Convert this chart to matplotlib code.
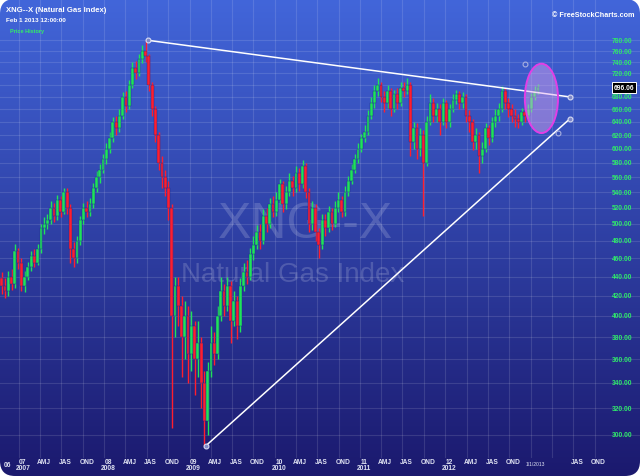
import matplotlib
matplotlib.use("Agg")
import matplotlib.pyplot as plt
import matplotlib.dates as mdates
import matplotlib.transforms as mtrans
from matplotlib.patches import FancyBboxPatch, Ellipse
import numpy as np
import pandas as pd

# XNG--X, bi-weekly bars
bar_dates = pd.date_range("2006-10-19", periods=165, freq="14D")
first_open = 438
closes = [430, 425, 440, 432, 468, 455, 430, 440, 450, 462,
          455, 470, 495, 500, 505, 520, 510, 530, 515, 540,
          520, 470, 460, 480, 505, 520, 515, 525, 545, 560,
          570, 585, 600, 615, 640, 630, 650, 680, 665, 700,
          730, 720, 745, 760, 750, 700, 660, 620, 580, 560,
          545, 520, 400, 430, 410, 380, 400, 365, 390, 360,
          375, 340, 310, 350, 375, 365, 400, 425, 410, 430,
          395, 415, 390, 430, 445, 440, 465, 475, 490, 480,
          510, 500, 525, 515, 530, 550, 525, 540, 555, 545,
          565, 550, 575, 540, 500, 520, 490, 475, 505, 495,
          515, 500, 520, 530, 515, 540, 555, 570, 585, 600,
          615, 625, 650, 670, 690, 700, 680, 670, 690, 660,
          685, 670, 695, 690, 700, 610, 630, 600, 620, 580,
          640, 670, 650, 660, 640, 670, 640, 660, 675, 685,
          670, 680, 650, 640, 610, 620, 590, 600, 630, 615,
          640, 650, 660, 690, 670, 660, 650, 645, 640, 655,
          650, 660, 680, 690, 696.06]
highs = [445, 438, 446, 448, 476, 472, 460, 446, 456, 468,
         470, 476, 500, 508, 512, 528, 526, 536, 535, 546,
         545, 524, 478, 486, 510, 526, 528, 532, 552, 568,
         578, 592, 608, 624, 648, 650, 660, 688, 690, 708,
         740, 742, 755, 772, 780, 755, 705, 665, 625, 590,
         570, 555, 525, 440, 440, 420, 415, 410, 405, 395,
         395, 380, 350, 358, 390, 385, 410, 440, 432, 440,
         435, 425, 420, 438, 455, 458, 472, 485, 498, 500,
         518, 520, 532, 535, 540, 558, 555, 548, 565, 562,
         575, 572, 583, 580, 545, 528, 525, 495, 512, 512,
         522, 520, 528, 540, 535, 548, 562, 578, 592, 608,
         622, 635, 658, 680, 700, 712, 705, 690, 700, 695,
         692, 695, 705, 705, 712, 705, 640, 638, 630, 628,
         650, 685, 678, 670, 668, 678, 675, 668, 685, 692,
         690, 688, 685, 658, 645, 630, 625, 610, 638, 635,
         648, 660, 670, 698, 695, 678, 668, 660, 652, 662,
         662, 668, 686, 698, 702]
lows = [422, 418, 420, 426, 428, 448, 425, 424, 436, 446,
        450, 452, 466, 488, 494, 500, 502, 505, 508, 512,
        512, 455, 450, 455, 475, 500, 508, 510, 520, 540,
        552, 565, 578, 594, 610, 620, 625, 645, 655, 660,
        695, 710, 715, 738, 740, 690, 650, 610, 570, 545,
        535, 505, 305, 380, 390, 345, 360, 340, 350, 330,
        345, 320, 292, 300, 345, 355, 360, 395, 400, 405,
        375, 390, 378, 385, 425, 432, 436, 458, 470, 470,
        476, 490, 495, 508, 510, 525, 515, 518, 535, 535,
        540, 542, 545, 532, 490, 492, 480, 460, 470, 485,
        490, 492, 496, 514, 508, 510, 535, 550, 565, 580,
        595, 610, 620, 645, 662, 682, 672, 655, 662, 650,
        655, 660, 665, 680, 685, 590, 600, 585, 590, 510,
        575, 635, 640, 640, 620, 635, 630, 632, 655, 668,
        660, 662, 640, 625, 598, 600, 565, 580, 595, 605,
        610, 632, 642, 655, 660, 648, 640, 632, 630, 635,
        640, 645, 655, 675, 685]
last_price = 696.06

price_ticks = list(range(300, 781, 20))
quarters = pd.date_range("2006-10-01", "2013-10-01", freq="QS")
quarter_labels = ["06",
                  "07|2007", "AMJ", "JAS", "OND",
                  "08|2008", "AMJ", "JAS", "OND",
                  "09|2009", "AMJ", "JAS", "OND",
                  "10|2010", "AMJ", "JAS", "OND",
                  "11|2011", "AMJ", "JAS", "OND",
                  "12|2012", "AMJ", "JAS", "OND",
                  "1/1/2013", "", "JAS", "OND"]

# drawn trend lines and the ellipse box corners
upper_dates = ["2008-07-06", "2013-06-17"]
upper_prices = [780, 680]
lower_dates = ["2009-03-11", "2013-06-17"]
lower_prices = [292, 645]
ellipse_dates = ["2012-12-06", "2013-04-27"]
ellipse_prices = [737, 623]

W, H = 640, 477
ref = mdates.date2num(pd.Timestamp("2007-01-01"))


def px2date(px):
    return ref + (px - 19) / 85.3 * 365.25


def py2price(py):
    return 780 * np.exp(-(py - 41.3) * 0.002423)


fig = plt.figure(figsize=(6.4, 4.77), dpi=100)
fig.patch.set_facecolor("white")
ax = fig.add_axes([0, 0, 1, 1])
ax.set_yscale("log")
ax.set_xlim(px2date(0), px2date(W))
ax.set_ylim(py2price(H), py2price(0))
ax.axis("off")

# background gradient with rounded corners
top = np.array([66, 102, 218]) / 255
bot = np.array([27, 25, 110]) / 255
t = np.linspace(0, 1, 256)[:, None]
grad = (top[None, :] * (1 - t) + bot[None, :] * t)[:, None, :]
im = ax.imshow(grad, extent=[0, 1, 0, 1], transform=ax.transAxes,
               aspect="auto", zorder=0, interpolation="bilinear")
clip = FancyBboxPatch((0, 0), W, H, boxstyle="round,pad=0,rounding_size=15",
                      transform=mtrans.IdentityTransform(), fc="none", ec="none")
im.set_clip_path(clip)

grid_c = (1, 1, 1, 0.12)
for v in price_ticks:
    ax.axhline(v, color=grid_c, lw=0.8, zorder=1)
for q in quarters:
    ax.axvline(q, ymin=1 - 458 / H, ymax=1, color=grid_c, lw=0.8, zorder=1)

# watermark
ax.text(0.477, 1 - 225 / H, "XNG--X", transform=ax.transAxes, ha="center",
        va="center", fontsize=36, color=(1, 1, 1, 0.17), family="Liberation Sans", zorder=1)
ax.text(0.458, 1 - 275 / H, "Natural Gas Index", transform=ax.transAxes, ha="center",
        va="center", fontsize=20, color=(1, 1, 1, 0.17), family="Liberation Sans", zorder=1)

# candles
x = mdates.date2num(bar_dates)
opens = [first_open] + closes[:-1]
green, red = "#1fe35a", "#ff1e2e"
cols = [green if c >= o else red for o, c in zip(opens, closes)]
body_lo = [min(o, c) for o, c in zip(opens, closes)]
body_h = [max(abs(c - o), 1.5) for o, c in zip(opens, closes)]
hi = [max(h, o, c) for h, o, c in zip(highs, opens, closes)]
lo = [min(l, o, c) for l, o, c in zip(lows, opens, closes)]
ax.vlines(x, lo, hi, colors=cols, lw=1.0, zorder=3)
ax.bar(x, body_h, bottom=body_lo, width=12, color=cols, edgecolor="#1b2a8a",
       linewidth=0.3, zorder=4)

# trend lines
for d, p in [(upper_dates, upper_prices), (lower_dates, lower_prices)]:
    ax.plot(pd.to_datetime(d), p, color="white", lw=1.1, zorder=6)
    ax.plot(pd.to_datetime(d), p, "o", ms=3.5, mfc="#7f88c8", mec="#d8dcf4",
            mew=0.8, zorder=7)

# ellipse highlight
e_pts = ax.transData.transform(np.column_stack(
    [mdates.date2num(pd.to_datetime(ellipse_dates)), ellipse_prices]))
cx, cy = e_pts.mean(axis=0)
ew, eh = abs(e_pts[1, 0] - e_pts[0, 0]), abs(e_pts[1, 1] - e_pts[0, 1])
ax.add_patch(Ellipse((cx, cy), ew, eh, transform=mtrans.IdentityTransform(),
                     fc=(0.88, 0.66, 0.95, 0.45), ec="#e23ee6", lw=1.4, zorder=8))
ax.plot(pd.to_datetime(ellipse_dates), ellipse_prices, "o", ms=3.5, mfc="none",
        mec="#a8b0e0", mew=0.8, zorder=9)

# right price labels (700 sits under the last-price box)
yt = mtrans.blended_transform_factory(ax.transAxes, ax.transData)
for v in price_ticks:
    if abs(v - last_price) < 8:
        continue
    ax.text(622 / W, v, f"{v:.2f}", transform=yt, ha="center", va="center",
            fontsize=4.8, color="#2ee86a", fontweight="bold",
            family="Liberation Sans", zorder=10)
ax.text(624 / W, last_price, f"{last_price:.2f}", transform=yt, ha="center",
        va="center", fontsize=4.8, color="white", fontweight="bold",
        family="Liberation Sans", zorder=11,
        bbox=dict(boxstyle="square,pad=0.3", fc="black", ec="white", lw=0.7))

# bottom date labels
xt = mtrans.blended_transform_factory(ax.transData, ax.transAxes)
xt_off = mtrans.offset_copy(xt, fig=fig, x=4, y=0, units="dots")
lab_c = "#dfe2f2"
for q, lab in zip(quarters, quarter_labels):
    if lab == "":
        continue
    if lab == "06":
        ax.text(7 / W, 1 - 466 / H, lab, transform=ax.transAxes, ha="center",
                va="center", fontsize=4.8, color=lab_c, fontweight="bold",
                family="Liberation Sans")
    elif "|" in lab:
        a, b = lab.split("|")
        ax.text(q, 1 - 462.5 / H, a, transform=xt_off, ha="center", va="center",
                fontsize=4.8, color=lab_c, fontweight="bold", family="Liberation Sans")
        ax.text(q, 1 - 468.5 / H, b, transform=xt_off, ha="center", va="center",
                fontsize=4.8, color=lab_c, fontweight="bold", family="Liberation Sans")
    elif "/" in lab:
        ax.text(q, 1 - 465 / H, lab, transform=xt_off, ha="center", va="center",
                fontsize=3.6, color=lab_c, family="Liberation Sans")
    else:
        ax.text(q, 1 - 462.5 / H, lab, transform=xt_off, ha="center", va="center",
                fontsize=4.8, color=lab_c, fontweight="bold", family="Liberation Sans")

# header texts
ax.text(6 / W, 1 - 10 / H, "XNG--X (Natural Gas Index)", transform=ax.transAxes,
        ha="left", va="center", fontsize=5.6, color="white", fontweight="bold",
        family="Liberation Sans")
ax.text(6 / W, 1 - 20.5 / H, "Feb 1 2013 12:00:00", transform=ax.transAxes,
        ha="left", va="center", fontsize=4.6, color="white", fontweight="bold",
        family="Liberation Sans")
ax.text(10 / W, 1 - 31 / H, "Price History", transform=ax.transAxes,
        ha="left", va="center", fontsize=4.0, color="#33ee66", fontweight="bold",
        family="Liberation Sans")
ax.text(634 / W, 1 - 15.5 / H, "\u00a9 FreeStockCharts.com", transform=ax.transAxes,
        ha="right", va="center", fontsize=5.2, color="white", fontweight="bold",
        family="Liberation Sans")

fig.savefig("out.png", dpi=100, facecolor="white")
